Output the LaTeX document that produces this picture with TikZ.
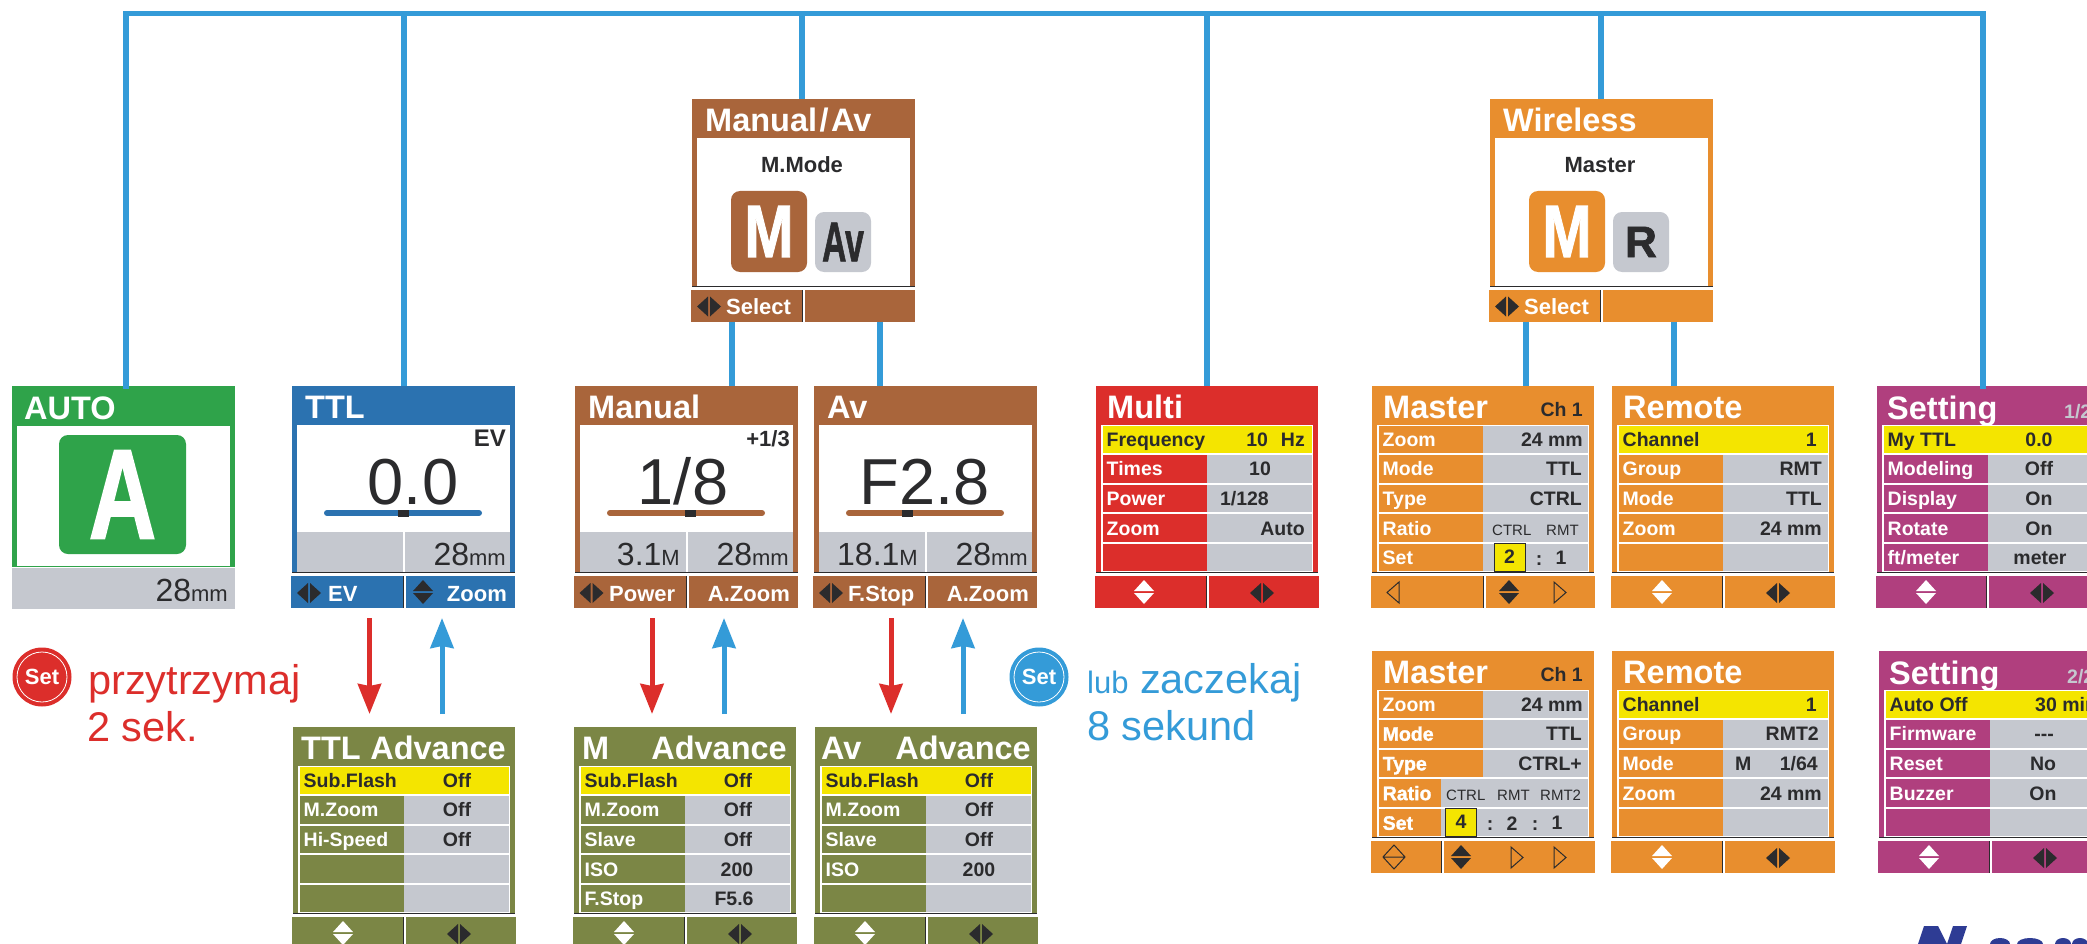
\documentclass[tikz,border=0pt]{standalone}
\usepackage{fontspec}
\setmainfont{Liberation Sans}
\newfontfamily\heavyfont{Liberation Sans}[BoldFeatures={FakeBold=1.5}]
\usetikzlibrary{arrows.meta,fit}

\definecolor{autogreen}{HTML}{2FA34A}
\definecolor{ttlblue}{HTML}{2B72B0}
\definecolor{manbrown}{HTML}{A9653B}
\definecolor{advolive}{HTML}{7B8645}
\definecolor{multired}{HTML}{DC2E2B}
\definecolor{wlorange}{HTML}{E88E2E}
\definecolor{setpurple}{HTML}{B03F7E}
\definecolor{panelgray}{HTML}{C5C8CF}
\definecolor{hilite}{HTML}{F4E500}
\definecolor{ink}{HTML}{2B2B2D}
\definecolor{linkblue}{HTML}{349BD8}
\definecolor{logoblue}{HTML}{2E3C94}

\tikzset{
	scr/.style={inner sep=0,outer sep=0,draw=none},
	headtxt/.style={inner sep=0,anchor=base west,text=white,font=\bfseries\fontsize{32.5}{33}\selectfont},
	rowtxt/.style={inner sep=0,text=ink,font=\bfseries\fontsize{19.5}{20}\selectfont},
	foottxt/.style={inner sep=0,text=white,font=\bfseries\fontsize{22}{22}\selectfont},
	subtxt/.style={inner sep=0,anchor=base,text=ink,font=\bfseries\fontsize{22}{22}\selectfont},
	numtxt/.style={inner sep=0,anchor=base east,text=ink,font=\fontsize{32}{32}\selectfont},
	bigtxt/.style={inner sep=0,anchor=base,text=ink,font=\fontsize{65}{65}\selectfont},
	ratiotxt/.style={inner sep=0,anchor=base west,text=ink,font=\fontsize{15}{15}\selectfont},
	ratiobox/.style={scr,draw=ink,line width=1pt,fill=hilite,minimum width=31,minimum height=28,text=ink,font=\bfseries\fontsize{19.5}{20}\selectfont},
	modebox/.style={scr,rounded corners=9pt},
	setbadge/.style={scr,circle,minimum size=59,text=white,font=\bfseries\fontsize{22}{22}\selectfont},
	holdtxt/.style={inner sep=0,anchor=base west,text=multired,font=\fontsize{41.5}{42}\selectfont},
	waittxt/.style={inner sep=0,anchor=base west,text=linkblue,font=\fontsize{41.5}{42}\selectfont},
	link/.style={line width=5.5pt,color=linkblue},
	holdarrow/.style={line width=5pt,color=multired,-{Stealth[length=30pt,width=23pt,inset=2pt]},shorten <=10pt,shorten >=13pt},
	backarrow/.style={line width=5pt,color=linkblue,-{Stealth[length=30pt,width=23pt,inset=2pt]},shorten <=13pt,shorten >=10pt},
}

\newcommand{\unitsz}{\fontsize{22}{22}\selectfont}
\newcommand{\scrnode}[6]{\node[scr,fill=#2,fit={(#3,#4) (#5,#6)}] (#1) {};}
\newcommand{\udicon}[2]{\begin{scope}[shift={(#1,206)}]
	\fill[#2] (-10,-1)--(10,-1)--(0,-12)--cycle;
	\fill[#2] (-10,1)--(10,1)--(0,12)--cycle;
\end{scope}}
\newcommand{\lricon}[2]{\begin{scope}[shift={(#1,207)}]
	\fill[#2] (-1,-10)--(-1,10)--(-12,0)--cycle;
	\fill[#2] (1,-10)--(1,10)--(12,0)--cycle;
\end{scope}}
\newcommand{\ltri}[1]{\draw[ink,line width=1pt] (#1+6,196)--(#1+6,217)--(#1-6,206.5)--cycle;}
\newcommand{\rtri}[1]{\draw[ink,line width=1pt] (#1-6,196)--(#1-6,217)--(#1+6,206.5)--cycle;}
\newcommand{\footbar}[3]{\scrnode{#1}{#2}{-1}{190}{223}{222}
	\fill[ink] (#3-1.5,190) rectangle (#3,222);
	\fill[white] (#3,190) rectangle (#3+2,222);}
\newcommand{\menu}[2]{\scrnode{#1}{#2}{0}{0}{222}{186}
	\fill[white] (5,38.5) rectangle (217,186);
	\foreach \rw in {0,...,4} {
		\fill[#2] (6.5,{39.5+29.5*\rw}) rectangle (111,{67+29.5*\rw});
		\fill[panelgray] (111,{39.5+29.5*\rw}) rectangle (215.5,{67+29.5*\rw});
	}
	\draw[ink,line width=.8pt] (0,186.5)--(222,186.5);}
\newcommand{\mrow}[6]{\node[rowtxt,text=white,anchor=base west] (#1l) at (10.5,{60+29.7*(#2-1)}) {#3};
	\node[rowtxt,anchor=#4] (#1v) at (#5,{60+29.7*(#2-1)}) {#6};}
\newcommand{\myrow}[5]{\fill[hilite] (6.5,39.5) rectangle (215.5,67);
	\node[rowtxt,anchor=base west] (#1l) at (10.5,60) {#2};
	\node[rowtxt,anchor=#3] (#1v) at (#4,60) {#5};}
\newcommand{\readout}[6]{\scrnode{#1}{#2}{0}{0}{223}{186}
	\fill[white] (5,39) rectangle (218,146);
	\fill[panelgray] (5,146) rectangle (218,186);
	\fill[white] (111,146) rectangle (113,186);
	\draw[ink,line width=.8pt] (0,186.5)--(223,186.5);
	\node[headtxt] (#1t) at (13,32) {#3};
	\node[bigtxt] (#1b) at (#5,118) {#4};
	\draw[#2,line width=6pt,line cap=round] (35,127)--(187,127);
	\fill[ink] (#6-5.5,123.5) rectangle (#6+5.5,130.5);}
\newcommand{\modepanel}[5]{\scrnode{#1}{#2}{0}{0}{223}{187}
	\fill[white] (5,39) rectangle (218,186);
	\draw[ink,line width=.8pt] (0,187)--(223,187);
	\node[headtxt] (#1t) at (13,32.5) {#3};
	\node[subtxt] (#1s) at (110,73.5) {#4};
	\node[modebox,fill=#2,text=white,minimum width=76,minimum height=81,font=\bfseries\fontsize{74}{74}\heavyfont] (#1m) at (77,132) {\scalebox{.8}[1]{M}};
	\node[modebox,fill=panelgray,text=ink,minimum width=56,minimum height=60,font=\bfseries\heavyfont] (#1o) at (151,142.5) {#5};
	\footbar{#1f}{#2}{111}
	\lricon{17}{ink}}

\begin{document}
\begin{tikzpicture}[x=1pt,y=-1pt]
	\useasboundingbox (0,0) rectangle (2087,944);
	\clip (0,0) rectangle (2087,944);

	% Auto
	\begin{scope}[shift={(12,386)}]
		\scrnode{auto}{autogreen}{0}{0}{223}{181}
		\fill[white] (5,40) rectangle (218,180);
		\fill[panelgray] (0,182) rectangle (223,223);
		\node[headtxt] (autot) at (12,33) {AUTO};
		\node[modebox,fill=autogreen,text=white,minimum width=127,minimum height=119,font=\bfseries\fontsize{128}{128}\heavyfont] (autoa) at (110.5,108.5) {\scalebox{.73}[1]{A}};
		\node[numtxt] (autom) at (216,215) {28{\unitsz mm}};
	\end{scope}

	% TTL
	\begin{scope}[shift={(292,386)}]
		\readout{ttl}{ttlblue}{TTL}{0.0}{121}{111.5}
		\node[rowtxt,anchor=base east,font=\bfseries\fontsize{24}{24}\selectfont] (ttlev) at (214,60) {EV};
		\node[numtxt] (ttlm) at (214,179) {28{\unitsz mm}};
		\footbar{ttlf}{ttlblue}{112}
		\lricon{17}{ink}
		\udicon{131}{ink}
		\node[foottxt,anchor=base west] (ttlfa) at (36,215) {EV};
		\node[foottxt,anchor=base east] (ttlfb) at (215,215) {Zoom};
	\end{scope}

	% Manual
	\begin{scope}[shift={(575,386)}]
		\readout{manual}{manbrown}{Manual}{1/8}{108}{115.5}
		\node[rowtxt,anchor=base east,font=\bfseries\fontsize{22}{22}\selectfont] (manualev) at (215,60) {+1/3};
		\node[numtxt] (manualp) at (105,179) {3.1{\unitsz M}};
		\node[numtxt] (manualm) at (214,179) {28{\unitsz mm}};
		\footbar{manualf}{manbrown}{112}
		\lricon{16.5}{ink}
		\node[foottxt,anchor=base west] (manualfa) at (34,215) {Power};
		\node[foottxt,anchor=base east] (manualfb) at (215,215) {A.Zoom};
	\end{scope}

	% Av
	\begin{scope}[shift={(814,386)}]
		\readout{av}{manbrown}{Av}{F2.8}{111}{93.5}
		\node[numtxt] (avp) at (104,179) {18.1{\unitsz M}};
		\node[numtxt] (avm) at (214,179) {28{\unitsz mm}};
		\footbar{avf}{manbrown}{112}
		\lricon{17}{ink}
		\node[foottxt,anchor=base west] (avfa) at (34,215) {F.Stop};
		\node[foottxt,anchor=base east] (avfb) at (215,215) {A.Zoom};
	\end{scope}

	% Manual/Av and Wireless
	\begin{scope}[shift={(692,99.5)}]
		\modepanel{manav}{manbrown}{Manual\hspace{2.5pt}/\hspace{2.5pt}Av}{M.Mode}{\fontsize{56}{56}\selectfont\scalebox{.6}[1]{Av}}
		\node[foottxt,anchor=base west] (manavfa) at (34,214.5) {Select};
	\end{scope}
	\begin{scope}[shift={(1490,99.5)}]
		\modepanel{wireless}{wlorange}{Wireless}{Master}{\fontsize{44}{44}\selectfont R}
		\node[foottxt,anchor=base west] (wirelessfa) at (34,214.5) {Select};
	\end{scope}

	% Advance
	\begin{scope}[shift={(293,727)}]
		\menu{ttladv}{advolive}
		\node[headtxt] (ttladvt) at (8,32) {TTL};
		\node[headtxt,anchor=base east] (ttladvu) at (213,32) {Advance};
		\myrow{ttlas}{Sub.Flash}{base}{164}{Off}
		\mrow{ttlaz}{2}{M.Zoom}{base}{164}{Off}
		\mrow{ttlah}{3}{Hi-Speed}{base}{164}{Off}
		\footbar{ttladvf}{advolive}{111}
		\udicon{50}{white}
		\lricon{166}{ink}
	\end{scope}
	\begin{scope}[shift={(574,727)}]
		\menu{manadv}{advolive}
		\node[headtxt] (manadvt) at (8,32) {M};
		\node[headtxt,anchor=base east] (manadvu) at (213,32) {Advance};
		\myrow{manas}{Sub.Flash}{base}{164}{Off}
		\mrow{manaz}{2}{M.Zoom}{base}{164}{Off}
		\mrow{manal}{3}{Slave}{base}{164}{Off}
		\mrow{manai}{4}{ISO}{base}{163}{200}
		\mrow{manaf}{5}{F.Stop}{base}{160}{F5.6}
		\footbar{manadvf}{advolive}{111}
		\udicon{50}{white}
		\lricon{166}{ink}
	\end{scope}
	\begin{scope}[shift={(815,727)}]
		\menu{avadv}{advolive}
		\node[headtxt] (avadvt) at (6,32) {Av};
		\node[headtxt,anchor=base east] (avadvu) at (216,32) {Advance};
		\myrow{avas}{Sub.Flash}{base}{164}{Off}
		\mrow{avaz}{2}{M.Zoom}{base}{164}{Off}
		\mrow{aval}{3}{Slave}{base}{164}{Off}
		\mrow{avai}{4}{ISO}{base}{164}{200}
		\footbar{avadvf}{advolive}{111}
		\udicon{50}{white}
		\lricon{166}{ink}
	\end{scope}

	% Multi
	\begin{scope}[shift={(1096,386)}]
		\menu{multi}{multired}
		\node[headtxt] (multit) at (11,32) {Multi};
		\myrow{mulf}{Frequency}{base east}{209}{10\hspace{13pt}Hz}
		\mrow{mult}{2}{Times}{base}{164}{10}
		\mrow{mulp}{3}{Power}{base east}{173}{1/128}
		\mrow{mulz}{4}{Zoom}{base east}{209}{Auto}
		\footbar{multif}{multired}{111}
		\udicon{48}{white}
		\lricon{166}{ink}
	\end{scope}

	% Master
	\begin{scope}[shift={(1372,386)}]
		\menu{master}{wlorange}
		\node[headtxt] (mastert) at (11,32) {Master};
		\node[rowtxt,anchor=base east] (masterc) at (211,30) {Ch 1};
		\mrow{masz}{1}{Zoom}{base east}{211}{24 mm}
		\mrow{masm}{2}{Mode}{base east}{210}{TTL}
		\mrow{mast}{3}{Type}{base east}{210}{CTRL}
		\mrow{masr}{4}{Ratio}{base east}{210}{}
		\node[ratiotxt] (masra) at (120,149) {CTRL};
		\node[ratiotxt] (masrb) at (174,149) {RMT};
		\mrow{mass}{5}{Set}{base}{189}{1}
		\node[ratiobox] (massb) at (137.5,171) {2};
		\node[rowtxt,anchor=base] (massc) at (167,179) {:};
		\footbar{masterf}{wlorange}{112}
		\ltri{21}
		\udicon{137}{ink}
		\rtri{188}
	\end{scope}
	\begin{scope}[shift={(1372,651)}]
		\menu{mastb}{wlorange}
		\fill[panelgray] (69,128) rectangle (111,185);
		\fill[white] (69,155.5) rectangle (215.5,157.5);
		\node[headtxt] (mastbt) at (11,32) {Master};
		\node[rowtxt,anchor=base east] (mastbc) at (211,30) {Ch 1};
		\mrow{mbsz}{1}{Zoom}{base east}{211}{24 mm}
		\mrow{mbsm}{2}{{\heavyfont Mode}}{base east}{210}{TTL}
		\mrow{mbst}{3}{{\heavyfont Type}}{base east}{210}{CTRL+}
		\mrow{mbsr}{4}{{\heavyfont Ratio}}{base east}{210}{}
		\node[ratiotxt] (mbsra) at (74,149) {CTRL};
		\node[ratiotxt] (mbsrb) at (125,149) {RMT};
		\node[ratiotxt] (mbsrc) at (168,149) {RMT2};
		\mrow{mbss}{5}{{\heavyfont Set}}{base}{185}{1}
		\node[ratiobox] (mbssb) at (89,171) {4};
		\node[rowtxt,anchor=base] (mbssc) at (118,179) {:};
		\node[rowtxt,anchor=base] (mbssd) at (140,179) {2};
		\node[rowtxt,anchor=base] (mbsse) at (163,179) {:};
		\footbar{mastbf}{wlorange}{70}
		\draw[ink,line width=1pt] (11,206)--(33,206) (11,206)--(22,194)--(33,206)--(22,218)--cycle;
		\udicon{89}{ink}
		\rtri{145}
		\rtri{188}
	\end{scope}

	% Remote
	\begin{scope}[shift={(1612,386)}]
		\menu{remote}{wlorange}
		\node[headtxt] (remotet) at (11,32) {Remote};
		\myrow{remc}{Channel}{base east}{205}{1}
		\mrow{remg}{2}{Group}{base east}{210}{RMT}
		\mrow{remm}{3}{Mode}{base east}{210}{TTL}
		\mrow{remz}{4}{Zoom}{base east}{210}{24 mm}
		\footbar{remotef}{wlorange}{111}
		\udicon{50}{white}
		\lricon{166}{ink}
	\end{scope}
	\begin{scope}[shift={(1612,651)}]
		\menu{remob}{wlorange}
		\node[headtxt] (remobt) at (11,32) {Remote};
		\myrow{rbmc}{Channel}{base east}{205}{1}
		\mrow{rbmg}{2}{Group}{base east}{207}{RMT2}
		\mrow{rbmm}{3}{Mode}{base east}{206}{1/64}
		\node[rowtxt,anchor=base west] (rbmn) at (123,119.4) {M};
		\mrow{rbmz}{4}{Zoom}{base east}{210}{24 mm}
		\footbar{remobf}{wlorange}{111}
		\udicon{50}{white}
		\lricon{166}{ink}
	\end{scope}

	% Setting
	\begin{scope}[shift={(1877,386)}]
		\menu{setting}{setpurple}
		\node[headtxt] (settingt) at (10,33) {Setting};
		\node[rowtxt,anchor=base west,text=panelgray] (settingp) at (187,32) {1/2};
		\myrow{setm}{My TTL}{base}{162}{0.0}
		\mrow{setd}{2}{Modeling}{base}{162}{Off}
		\mrow{seti}{3}{Display}{base}{162}{On}
		\mrow{setr}{4}{Rotate}{base}{162}{On}
		\mrow{setf}{5}{ft/meter}{base}{163}{meter}
		\footbar{settingf}{setpurple}{110}
		\udicon{49}{white}
		\lricon{165}{ink}
	\end{scope}
	\begin{scope}[shift={(1879,651)}]
		\menu{settb}{setpurple}
		\node[headtxt] (settbt) at (10,33) {Setting};
		\node[rowtxt,anchor=base west,text=panelgray] (settbp) at (188,32) {2/2};
		\myrow{sbtm}{Auto Off}{base west}{156}{30 min}
		\mrow{sbtf}{2}{Firmware}{base}{165}{{-}{-}{-}}
		\mrow{sbtr}{3}{Reset}{base}{164}{No}
		\mrow{sbtb}{4}{Buzzer}{base}{164}{On}
		\footbar{settbf}{setpurple}{111}
		\udicon{50}{white}
		\lricon{166}{ink}
	\end{scope}

	% bus
	\coordinate (busa) at (126,13.5);
	\coordinate (busb) at (404,13.5);
	\coordinate (busc) at (802,13.5);
	\coordinate (busd) at (1207,13.5);
	\coordinate (buse) at (1601,13.5);
	\coordinate (busf) at (1983,13.5);
	\draw[link,line cap=rect] (busa |- auto.north)--(busa)--(busf)--(busf |- setting.north);
	\draw[link] (busb)--(busb |- ttl.north);
	\draw[link] (busc)--(busc |- manav.north);
	\draw[link] (busd)--(busd |- multi.north);
	\draw[link] (buse)--(buse |- wireless.north);

	\coordinate (mana) at (732,0);
	\coordinate (avna) at (880,0);
	\coordinate (masa) at (1526,0);
	\coordinate (rema) at (1674,0);
	\draw[link] (mana |- manavf.south)--(mana |- manual.north);
	\draw[link] (avna |- manavf.south)--(avna |- av.north);
	\draw[link] (masa |- wirelessf.south)--(masa |- master.north);
	\draw[link] (rema |- wirelessf.south)--(rema |- remote.north);

	% arrows
	\coordinate (ttlred) at (369.5,0);
	\coordinate (ttlback) at (442,0);
	\coordinate (manred) at (652,0);
	\coordinate (manback) at (724,0);
	\coordinate (avred) at (891,0);
	\coordinate (avback) at (963,0);
	\draw[holdarrow] (ttlred |- ttlf.south)--(ttlred |- ttladv.north);
	\draw[backarrow] (ttlback |- ttladv.north)--(ttlback |- ttlf.south);
	\draw[holdarrow] (manred |- manualf.south)--(manred |- manadv.north);
	\draw[backarrow] (manback |- manadv.north)--(manback |- manualf.south);
	\draw[holdarrow] (avred |- avf.south)--(avred |- avadv.north);
	\draw[backarrow] (avback |- avadv.north)--(avback |- avf.south);

	% legend
	\node[setbadge,fill=multired] (holdset) at (42,677) {Set};
	\draw[white,line width=.8pt] (holdset) circle (25);
	\node[holdtxt] (holda) at (88,694) {przytrzymaj};
	\node[holdtxt] (holdb) at (87,741) {2 sek.};
	\node[setbadge,fill=linkblue] (waitset) at (1039,677) {Set};
	\draw[white,line width=.8pt] (waitset) circle (25);
	\node[waittxt] (waita) at (1087,693) {{\fontsize{31}{31}\selectfont lub} zaczekaj};
	\node[waittxt] (waitb) at (1087,740) {8 sekund};

	% logo, cut off by the page edge
	\fill[logoblue] (1918,944)--(1924,926)--(1938,926)--(1947,944)--cycle;
	\fill[logoblue] (1953,926)--(1967,926)--(1961,944)--(1947,944)--cycle;
	\foreach \lx/\lw in {2000/10,2030/13,2063/8,2080/8}
		\fill[logoblue] (\lx,944) ellipse ({\lw} and 6);
\end{tikzpicture}
\end{document}
